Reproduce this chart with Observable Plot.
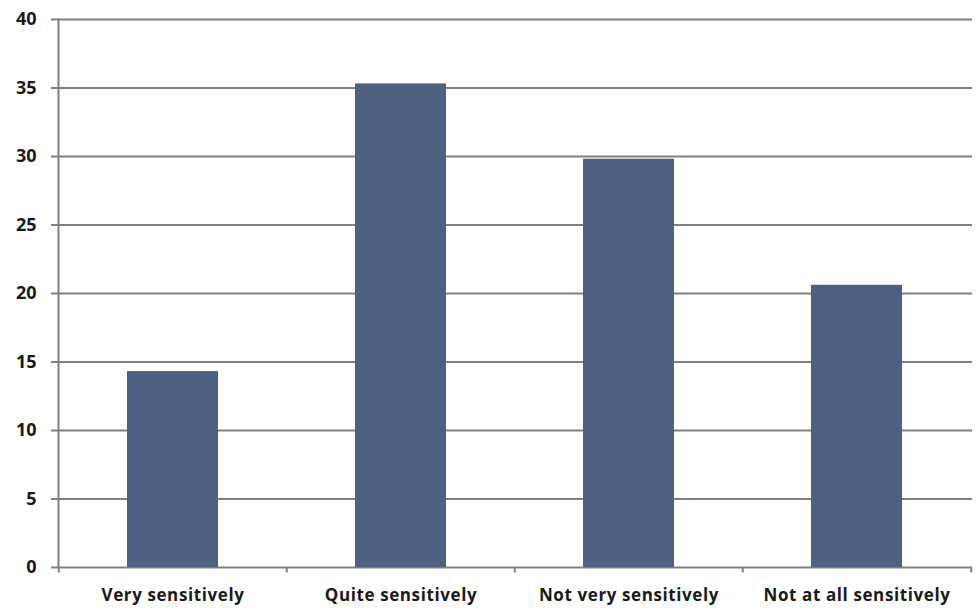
<!DOCTYPE html>
<html>
<head>
<meta charset="utf-8">
<script src="https://cdn.jsdelivr.net/npm/d3@7"></script>
<script src="https://cdn.jsdelivr.net/npm/@observablehq/plot@0.6"></script>
<style>
  html, body { margin: 0; padding: 0; background: #fff; }
  #chart svg { display: block; }
  #chart g[aria-label="x-axis tick label"] text { letter-spacing: 0.6px; }
</style>
</head>
<body>
<div id="chart"></div>
<script>
const categories = ["Very sensitively", "Quite sensitively", "Not very sensitively", "Not at all sensitively"];
const values = [14.3, 35.3, 29.8, 20.6];
const yTicks = [0, 5, 10, 15, 20, 25, 30, 35, 40];

const data = categories.map((c, i) => ({category: c, value: values[i]}));

const W = 976, H = 609;
const mL = 58, mR = 4, mT = 19, mB = 42;
const step = (W - mL - mR) / categories.length;
const gray = "#808080";

const chart = Plot.plot({
  width: W,
  height: H,
  marginLeft: mL,
  marginRight: mR,
  marginTop: mT,
  marginBottom: mB,
  style: {fontFamily: "'Open Sans', sans-serif", fontWeight: "bold", fontSize: "16px", color: "#1a1a1a", background: "#fff"},
  x: {domain: categories, paddingInner: 0.6, paddingOuter: 0.3, label: null},
  y: {domain: [0, 40], label: null},
  marks: [
    Plot.ruleY(yTicks, {stroke: gray, strokeWidth: 2}),
    Plot.barY(data, {x: "category", y: "value", fill: "#4f6180"}),
    Plot.axisY({ticks: yTicks, tickSize: 7, tickPadding: 15, stroke: gray, strokeWidth: 2, fontSize: 18, fontWeight: "bold", tickFormat: d => d}),
    Plot.axisX({tickSize: 0, tickPadding: 21, fontSize: 17, fontWeight: "bold"}),
    Plot.frame({anchor: "left", stroke: gray, strokeWidth: 2}),
    Plot.ruleX(categories, {x: d => d, dx: -step / 2, y1: 0, y2: -0.4, stroke: gray, strokeWidth: 2}),
    Plot.ruleX(categories.slice(-1), {x: d => d, dx: step / 2, y1: 0, y2: -0.4, stroke: gray, strokeWidth: 2})
  ]
});
document.getElementById("chart").appendChild(chart);
</script>
</body>
</html>
